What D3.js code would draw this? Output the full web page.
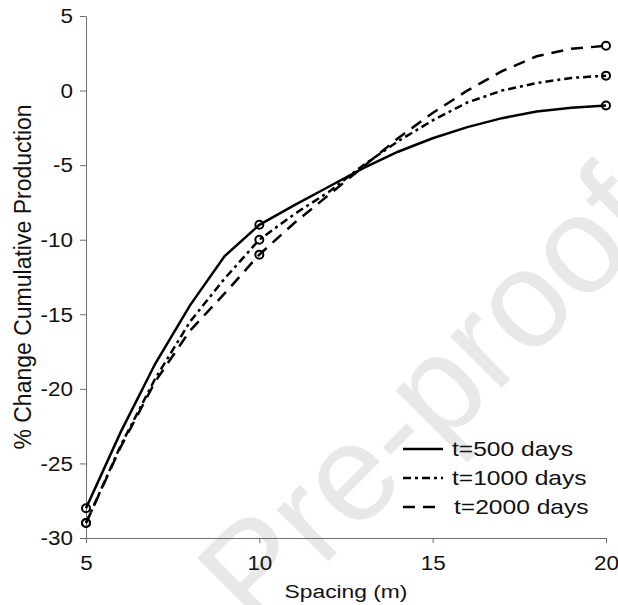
<!DOCTYPE html>
<html>
<head>
<meta charset="utf-8">
<script src="https://cdn.jsdelivr.net/npm/d3@7"></script>
<style>
  html, body { margin: 0; padding: 0; background: #fff; }
  svg { display: block; font-family: "Liberation Sans", Arial, Helvetica, sans-serif; }
</style>
</head>
<body>
<svg id="chart" width="618" height="605"></svg>
<script>
// Spacing values (m) along the x axis
const spacing = [5, 6, 7, 8, 9, 10, 11, 12, 13, 14, 15, 16, 17, 18, 19, 20];

// % change in cumulative production for each time horizon
const t500  = [-28, -22.9, -18.3, -14.4, -11.1, -9, -7.7, -6.45, -5.2, -4.1, -3.2, -2.45, -1.85, -1.4, -1.15, -1.0];
const t1000 = [-29, -23.8, -19.3, -15.5, -12.6, -10, -8.3, -6.8, -5.0, -3.4, -2.0, -0.8, 0.0, 0.5, 0.85, 1.0];
const t2000 = [-29, -23.9, -19.5, -16.1, -13.6, -11, -8.9, -7.0, -5.1, -3.2, -1.5, 0.0, 1.3, 2.3, 2.8, 3.0];

// Spacings that carry an open-circle marker
const markerSpacing = [5, 10, 20];

const seriesNames = ["t=500 days", "t=1000 days", "t=2000 days"];
const xTicks = [5, 10, 15, 20];
const yTicks = [5, 0, -5, -10, -15, -20, -25, -30];

const series = [
  { name: seriesNames[0], values: t500,  dash: null },
  { name: seriesNames[1], values: t1000, dash: "8,4,3,4" },
  { name: seriesNames[2], values: t2000, dash: "12,8" }
];

const svg = d3.select("#chart");
const plotLeft = 86, plotRight = 606, plotTop = 16, plotBottom = 538;
const textStretch = 1.15;   // horizontal widening of the sans-serif labels

const x = d3.scaleLinear().domain([5, 20]).range([plotLeft, plotRight]);
const y = d3.scaleLinear().domain([-30, 5]).range([plotBottom, plotTop]);

// Faint diagonal watermark behind everything
svg.append("text")
  .attr("transform", "translate(434,404) rotate(-45)")
  .attr("text-anchor", "middle")
  .attr("dominant-baseline", "middle")
  .attr("font-size", 138)
  .attr("fill", "#e8e8e8")
  .text("Pre-proof");

// Axes (plain hyphen for negative tick labels)
const axisColor = "#6e6e6e";
const fmt = d => String(d);
const yAxis = svg.append("g")
  .attr("transform", `translate(${plotLeft},0)`)
  .call(d3.axisLeft(y).tickValues(yTicks).tickSize(6).tickSizeOuter(0).tickFormat(fmt));
const xAxis = svg.append("g")
  .attr("transform", `translate(0,${plotBottom})`)
  .call(d3.axisBottom(x).tickValues(xTicks).tickSize(5).tickSizeOuter(0).tickFormat(fmt));

[xAxis, yAxis].forEach(g => {
  g.select(".domain").attr("stroke", axisColor).attr("stroke-width", 1);
  g.selectAll(".tick line").attr("stroke", axisColor).attr("stroke-width", 1);
  g.selectAll(".tick text")
    .attr("fill", "#111")
    .attr("font-size", 19.5)
    .attr("font-family", "Liberation Sans, Arial, sans-serif");
});
yAxis.selectAll(".tick text")
  .attr("x", 0).attr("dy", "0.35em")
  .attr("transform", `translate(-13,0) scale(${textStretch},1)`);
xAxis.selectAll(".tick text")
  .attr("y", 0).attr("dy", 0)
  .attr("transform", `translate(0,32) scale(${textStretch},1)`);

// Axis titles
svg.append("text")
  .attr("transform", `translate(${(plotLeft + plotRight) / 2},598) scale(1.2,1)`)
  .attr("text-anchor", "middle")
  .attr("font-size", 19)
  .attr("fill", "#111")
  .text("Spacing (m)");
svg.append("text")
  .attr("transform", `translate(31,${(plotTop + plotBottom) / 2}) rotate(-90)`)
  .attr("text-anchor", "middle")
  .attr("font-size", 23)
  .attr("fill", "#111")
  .text("% Change Cumulative Production");

// Series lines
const line = d3.line()
  .x((d, i) => x(spacing[i]))
  .y(d => y(d))
  .curve(d3.curveLinear);

series.forEach(s => {
  svg.append("path")
    .datum(s.values)
    .attr("d", line)
    .attr("fill", "none")
    .attr("stroke", "#000")
    .attr("stroke-width", 2.5)
    .attr("stroke-dasharray", s.dash);
});

// Open-circle markers
series.forEach(s => {
  const pts = markerSpacing.map(v => ({ sx: v, val: s.values[spacing.indexOf(v)] }));
  svg.append("g").selectAll("circle")
    .data(pts)
    .join("circle")
    .attr("cx", d => x(d.sx))
    .attr("cy", d => y(d.val))
    .attr("r", 4)
    .attr("fill", "none")
    .attr("stroke", "#000")
    .attr("stroke-width", 2);
});

// Legend
const legend = svg.append("g").attr("transform", "translate(403,449)");
series.forEach((s, i) => {
  const row = legend.append("g").attr("transform", `translate(0,${i * 29})`);
  row.append("line")
    .attr("x1", 0).attr("x2", 40)
    .attr("y1", 0).attr("y2", 0)
    .attr("stroke", "#000")
    .attr("stroke-width", 2.5)
    .attr("stroke-dasharray", s.dash);
  row.append("text")
    .attr("transform", `translate(${i === 2 ? 51 : 49},7) scale(1.2,1)`)
    .attr("font-size", 20.5)
    .attr("fill", "#111")
    .text(s.name);
});
</script>
</body>
</html>
